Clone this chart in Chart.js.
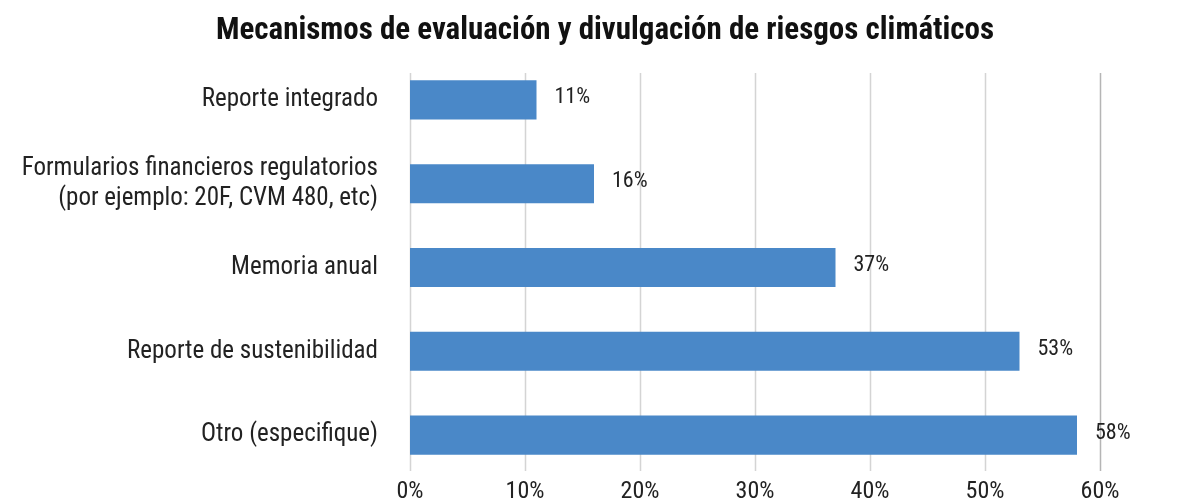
<!DOCTYPE html>
<html lang="es">
  <head>
    <meta charset="UTF-8" />
    <title>Mecanismos de evaluación y divulgación de riesgos climáticos</title>
    <script src="https://cdn.jsdelivr.net/npm/chart.js"></script>
    <style>
      * {
        margin: 0;
        padding: 0;
        box-sizing: border-box;
      }

      body {
        background: #ffffff;
      }

      .chart-box {
        width: 1201px;
        height: 501px;
      }
    </style>
  </head>
  <body>
    <div class="chart-box">
      <canvas id="riesgosChart"></canvas>
    </div>

    <script>
      const chartTitle = "Mecanismos de evaluación y divulgación de riesgos climáticos";
      const categories = [
        "Reporte integrado",
        ["Formularios financieros regulatorios", "(por ejemplo: 20F, CVM 480, etc)"],
        "Memoria anual",
        "Reporte de sustenibilidad",
        "Otro (especifique)",
      ];
      const values = [11, 16, 37, 53, 58];
      const xTicks = [0, 10, 20, 30, 40, 50, 60];

      const fontStack = "'Roboto Condensed', 'Liberation Sans Narrow', 'DejaVu Sans Condensed', Roboto, sans-serif";

      // vertical grid lines, a bit shorter than the plot area like the original
      const shortGrid = {
        id: "shortGrid",
        beforeDatasetsDraw(chart) {
          const ctx = chart.ctx;
          const area = chart.chartArea;
          const xScale = chart.scales.x;
          ctx.save();
          ctx.lineWidth = 1.5;
          xTicks.forEach((v) => {
            const x = Math.round(xScale.getPixelForValue(v)) + 0.5;
            ctx.strokeStyle = v === 60 ? "#b5b5b5" : "#d4d4d4";
            ctx.beginPath();
            ctx.moveTo(x, area.top + 15);
            ctx.lineTo(x, area.bottom - 6);
            ctx.stroke();
          });
          ctx.restore();
        },
      };

      // value labels at the end of each bar
      const barLabels = {
        id: "barLabels",
        afterDatasetsDraw(chart) {
          const ctx = chart.ctx;
          const meta = chart.getDatasetMeta(0);
          ctx.save();
          ctx.font = "22px " + fontStack;
          ctx.fillStyle = "#222222";
          ctx.textAlign = "left";
          ctx.textBaseline = "middle";
          meta.data.forEach((bar, i) => {
            ctx.fillText(values[i] + "%", bar.x + 18, bar.y - 2);
          });
          ctx.restore();
        },
      };

      // title centred a bit right of the canvas middle, like the original
      const topTitle = {
        id: "topTitle",
        afterDraw(chart) {
          const ctx = chart.ctx;
          ctx.save();
          ctx.font = "bold 31px " + fontStack;
          ctx.fillStyle = "#111111";
          ctx.textAlign = "center";
          ctx.textBaseline = "middle";
          ctx.fillText(chartTitle, 605, 31);
          ctx.restore();
        },
      };

      new Chart(document.getElementById("riesgosChart"), {
        type: "bar",
        data: {
          labels: categories,
          datasets: [
            {
              data: values,
              backgroundColor: "#4a88c8",
              barPercentage: 0.466,
              categoryPercentage: 1,
            },
          ],
        },
        options: {
          indexAxis: "y",
          responsive: true,
          maintainAspectRatio: false,
          animation: false,
          layout: {
            padding: { top: 58, right: 101, bottom: 0, left: 0 },
          },
          plugins: {
            legend: { display: false },
            tooltip: { enabled: false },
            title: { display: false },
          },
          scales: {
            x: {
              min: 0,
              max: 60,
              afterBuildTicks(scale) {
                scale.ticks = xTicks.map((v) => ({ value: v }));
              },
              afterFit(scale) {
                scale.height = 24;
              },
              ticks: {
                color: "#222222",
                font: { family: fontStack, size: 24, lineHeight: 1 },
                padding: 3,
                callback: (v) => v + "%",
              },
              grid: { display: false, drawTicks: false },
              border: { display: false },
            },
            y: {
              afterFit(scale) {
                scale.width = 410;
                scale.paddingTop = 0;
                scale.paddingBottom = 0;
              },
              ticks: {
                color: "#222222",
                font: { family: fontStack, size: 25 },
                padding: 32,
              },
              grid: { display: false, drawTicks: false },
              border: { display: false },
            },
          },
        },
        plugins: [shortGrid, barLabels, topTitle],
      });
    </script>
  </body>
</html>
